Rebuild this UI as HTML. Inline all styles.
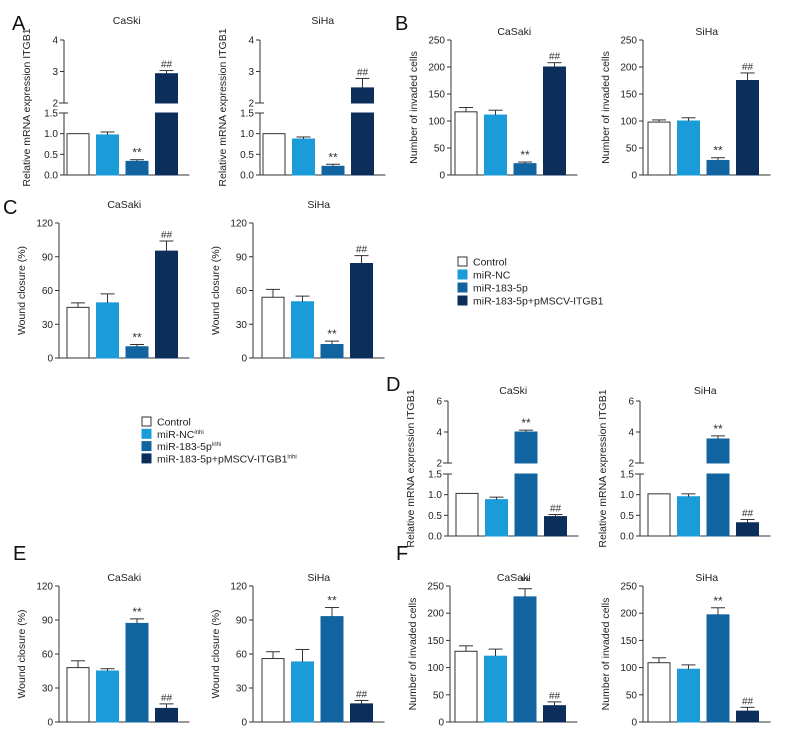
<!DOCTYPE html>
<html><head><meta charset="utf-8"><style>
html,body{margin:0;padding:0;background:#fff;}
svg{display:block;font-family:"Liberation Sans Narrow","Liberation Sans",sans-serif;}
</style></head><body>
<svg id="fig" width="792" height="756" viewBox="0 0 792 756" xmlns="http://www.w3.org/2000/svg"></svg>
<script>
// ---- data ----
const groups = ["Control","miR-NC","miR-183-5p","miR-183-5p+pMSCV-ITGB1"];
const colors = ["#ffffff","#1b9bd7","#11649f","#0c2e5b"];
const aCaskiVals=[1.0,0.97,0.33,2.93]; const aCaskiErr=[0,0.07,0.04,0.1]; const aCaskiMarks=["","","**","##"];
const aSihaVals=[1.0,0.87,0.21,2.48]; const aSihaErr=[0,0.05,0.05,0.3]; const aSihaMarks=["","","**","##"];
const bCaskiVals=[117,111,21,200]; const bCaskiErr=[8,9,3,8]; const bCaskiMarks=["","","**","##"];
const bSihaVals=[98,100,27,175]; const bSihaErr=[4,6,5,14]; const bSihaMarks=["","","**","##"];
const cCaskiVals=[45,49,10,95]; const cCaskiErr=[4,8,2,9]; const cCaskiMarks=["","","**","##"];
const cSihaVals=[54,50,12,84]; const cSihaErr=[7,5,3,7]; const cSihaMarks=["","","**","##"];
const dCaskiVals=[1.03,0.88,4.0,0.47]; const dCaskiErr=[0,0.06,0.12,0.05]; const dCaskiMarks=["","","**","##"];
const dSihaVals=[1.02,0.95,3.55,0.32]; const dSihaErr=[0,0.07,0.2,0.08]; const dSihaMarks=["","","**","##"];
const eCaskiVals=[48,45,87,12]; const eCaskiErr=[6,2,4,4]; const eCaskiMarks=["","","**","##"];
const eSihaVals=[56,53,93,16]; const eSihaErr=[6,11,8,3]; const eSihaMarks=["","","**","##"];
const fCaskiVals=[130,121,230,30]; const fCaskiErr=[10,13,15,7]; const fCaskiMarks=["","","**","##"];
const fSihaVals=[109,97,197,20]; const fSihaErr=[9,8,13,7]; const fSihaMarks=["","","**","##"];
const brokenLowTicks=[0,0.5,1.0,1.5]; const brokenLowLabels=["0.0","0.5","1.0","1.5"];
const aUpTicks=[2,3,4]; const dUpTicks=[2,4,6];
const invTicks=[0,50,100,150,200,250]; const woundTicks=[0,30,60,90,120];

const NS="http://www.w3.org/2000/svg";
const svg=document.getElementById('fig');
function mk(tag,attrs,parent,txt){const e=document.createElementNS(NS,tag);for(const k in attrs)e.setAttribute(k,attrs[k]);if(txt!==undefined)e.textContent=txt;(parent||svg).appendChild(e);return e;}

function makeScale(L){
  if(!L.broken) return v=>L.y0-(v-L.min)/(L.max-L.min)*(L.y0-L.y1);
  return v=>{
    if(v<=L.lowMax) return L.y0-v/L.lowMax*(L.y0-L.lowTop);
    return L.upBot-(v-L.upMin)/(L.upMax-L.upMin)*(L.upBot-L.y1);
  };
}

function panel(name,L,title,ylab,vals,errs,marks,ticks,tickLabels,upTicks){
  const g=mk('g',{},svg);
  
  
  const y=makeScale(L);
  const ax=L.ax;
  const xEnd=L.bx+3*L.pitch+L.bw+12;
  // title
  const t=mk('text',{x:(ax+xEnd)/2,y:L.ty,'font-size':10.5,'text-anchor':'middle',fill:'#222'},g,title);
  
  
  // y label
  const cy=(L.y0+L.y1)/2;
  const yl=mk('text',{x:0,y:0,'font-size':10.5,'text-anchor':'middle',fill:'#222',transform:`translate(${ax-34},${cy}) rotate(-90)`},g,ylab);
  
  
  const ls={stroke:'#333','stroke-width':1,fill:'none'};
  // axes
  if(L.broken){
    mk('line',Object.assign({x1:ax,y1:L.y0,x2:ax,y2:L.lowTop},ls),g);
    mk('line',Object.assign({x1:ax,y1:L.upBot,x2:ax,y2:L.y1},ls),g);
    mk('line',Object.assign({x1:ax-5,y1:L.lowTop,x2:ax+4,y2:L.lowTop},ls),g);
    mk('line',Object.assign({x1:ax-5,y1:L.upBot,x2:ax+4,y2:L.upBot},ls),g);
  } else {
    mk('line',Object.assign({x1:ax,y1:L.y0,x2:ax,y2:L.y1},ls),g);
  }
  mk('line',Object.assign({x1:ax,y1:L.y0,x2:xEnd,y2:L.y0},ls),g);
  const allT=ticks.map((v,i)=>[v,tickLabels[i]]).concat((upTicks||[]).map(v=>[v,String(v)]));
  allT.forEach(([v,lab])=>{
    const yy=y(v);
    mk('line',Object.assign({x1:ax-4,y1:yy,x2:ax,y2:yy},ls),g);
    const tl=mk('text',{x:ax-6,y:yy+3.5,'font-size':10,'text-anchor':'end',fill:'#222'},g,lab);
    
    
  });
  vals.forEach((v,i)=>{
    const x=L.bx+i*L.pitch;
    const top=y(v);
    const bs={fill:colors[i],stroke:i===0?'#333':colors[i],'stroke-width':1};
    if(L.broken && v>L.lowMax){
      const r1=mk('rect',Object.assign({x:x,y:L.lowTop,width:L.bw,height:L.y0-L.lowTop},bs),g);
      
      
      const r2=mk('rect',Object.assign({x:x,y:top,width:L.bw,height:L.upBot-top},bs),g);
      
      
    } else {
      const r=mk('rect',Object.assign({x:x,y:top,width:L.bw,height:L.y0-top},bs),g);
      
      
    }
    let et=top;
    if(errs[i]>0){
      et=y(v+errs[i]);
      const cx=x+L.bw/2;
      mk('line',{x1:cx,y1:top,x2:cx,y2:et,stroke:'#333','stroke-width':1},g);
      mk('line',{x1:cx-7,y1:et,x2:cx+7,y2:et,stroke:'#333','stroke-width':1},g);
    }
    if(marks[i]){
      const m=mk('text',{x:x+L.bw/2,y:et-3,'font-size':marks[i]==='**'?12:10,'text-anchor':'middle',fill:'#333'},g,marks[i]);
      
      
    }
  });
}

const bw=22,pitch=29.5;
const mA=(ax,bx)=>({broken:true,ax,bx,bw,pitch,y0:175,lowTop:113,lowMax:1.5,upBot:103,upMin:2,upMax:4,y1:40,ty:24});
const mD=(ax,bx)=>({broken:true,ax,bx,bw,pitch,y0:536,lowTop:474,lowMax:1.5,upBot:463,upMin:2,upMax:6,y1:401,ty:394});
const lin=(ax,bx,y0,y1,max,ty)=>({ax,bx,bw,pitch,y0,y1,min:0,max,ty});
const mrna="Relative mRNA expression ITGB1", inv="Number of invaded cells", wc="Wound closure (%)";
const woundLabels=woundTicks.map(String), invLabels=invTicks.map(String);

panel('panel-a-caski',mA(64,67),'CaSki',mrna,aCaskiVals,aCaskiErr,aCaskiMarks,brokenLowTicks,brokenLowLabels,aUpTicks);
panel('panel-a-siha',mA(260,263),'SiHa',mrna,aSihaVals,aSihaErr,aSihaMarks,brokenLowTicks,brokenLowLabels,aUpTicks);
panel('panel-b-caski',lin(451,455,175,40,250,35),'CaSaki',inv,bCaskiVals,bCaskiErr,bCaskiMarks,invTicks,invLabels);
panel('panel-b-siha',lin(643,648,175,40,250,35),'SiHa',inv,bSihaVals,bSihaErr,bSihaMarks,invTicks,invLabels);
panel('panel-c-caski',lin(59,67,358,223,120,208),'CaSaki',wc,cCaskiVals,cCaskiErr,cCaskiMarks,woundTicks,woundLabels);
panel('panel-c-siha',lin(253,262,358,223,120,208),'SiHa',wc,cSihaVals,cSihaErr,cSihaMarks,woundTicks,woundLabels);
panel('panel-d-caski',mD(448,456),'CaSki',mrna,dCaskiVals,dCaskiErr,dCaskiMarks,brokenLowTicks,brokenLowLabels,dUpTicks);
panel('panel-d-siha',mD(640,648),'SiHa',mrna,dSihaVals,dSihaErr,dSihaMarks,brokenLowTicks,brokenLowLabels,dUpTicks);
panel('panel-e-caski',lin(59,67,722,586,120,581),'CaSaki',wc,eCaskiVals,eCaskiErr,eCaskiMarks,woundTicks,woundLabels);
panel('panel-e-siha',lin(253,262,722,586,120,581),'SiHa',wc,eSihaVals,eSihaErr,eSihaMarks,woundTicks,woundLabels);
panel('panel-f-caski',lin(450,455,722,586,250,581),'CaSaki',inv,fCaskiVals,fCaskiErr,fCaskiMarks,invTicks,invLabels);
panel('panel-f-siha',lin(643,648,722,586,250,581),'SiHa',inv,fSihaVals,fSihaErr,fSihaMarks,invTicks,invLabels);

// panel letters
[['A',12,30],['B',395,30],['C',3,214],['D',386,391],['E',13,560],['F',396,560]].forEach(([l,x,yy])=>{
  const t=mk('text',{x:x,y:yy,'font-size':20,fill:'#111'},svg,l);
  
  
});

// legends
function legend(name,x,y,step,labels,sups){
  const g=mk('g',{},svg);
  
  
  labels.forEach((lab,i)=>{
    const yy=y+i*step;
    mk('rect',{x:x,y:yy,width:9,height:9,fill:colors[i],stroke:i===0?'#333':colors[i],'stroke-width':1},g);
    const t=mk('text',{x:x+15,y:yy+8.5,'font-size':10.5,fill:'#222'},g,lab);
    
    
    if(sups&&sups[i]){mk('tspan',{'font-size':6,dy:-4},t,sups[i]);}
  });
}
legend('legend-overexpression',458,257,13,groups);
legend('legend-inhibitor',142,417,12.3,groups,["","inhi","inhi","inhi"]);
</script>
</body></html>
